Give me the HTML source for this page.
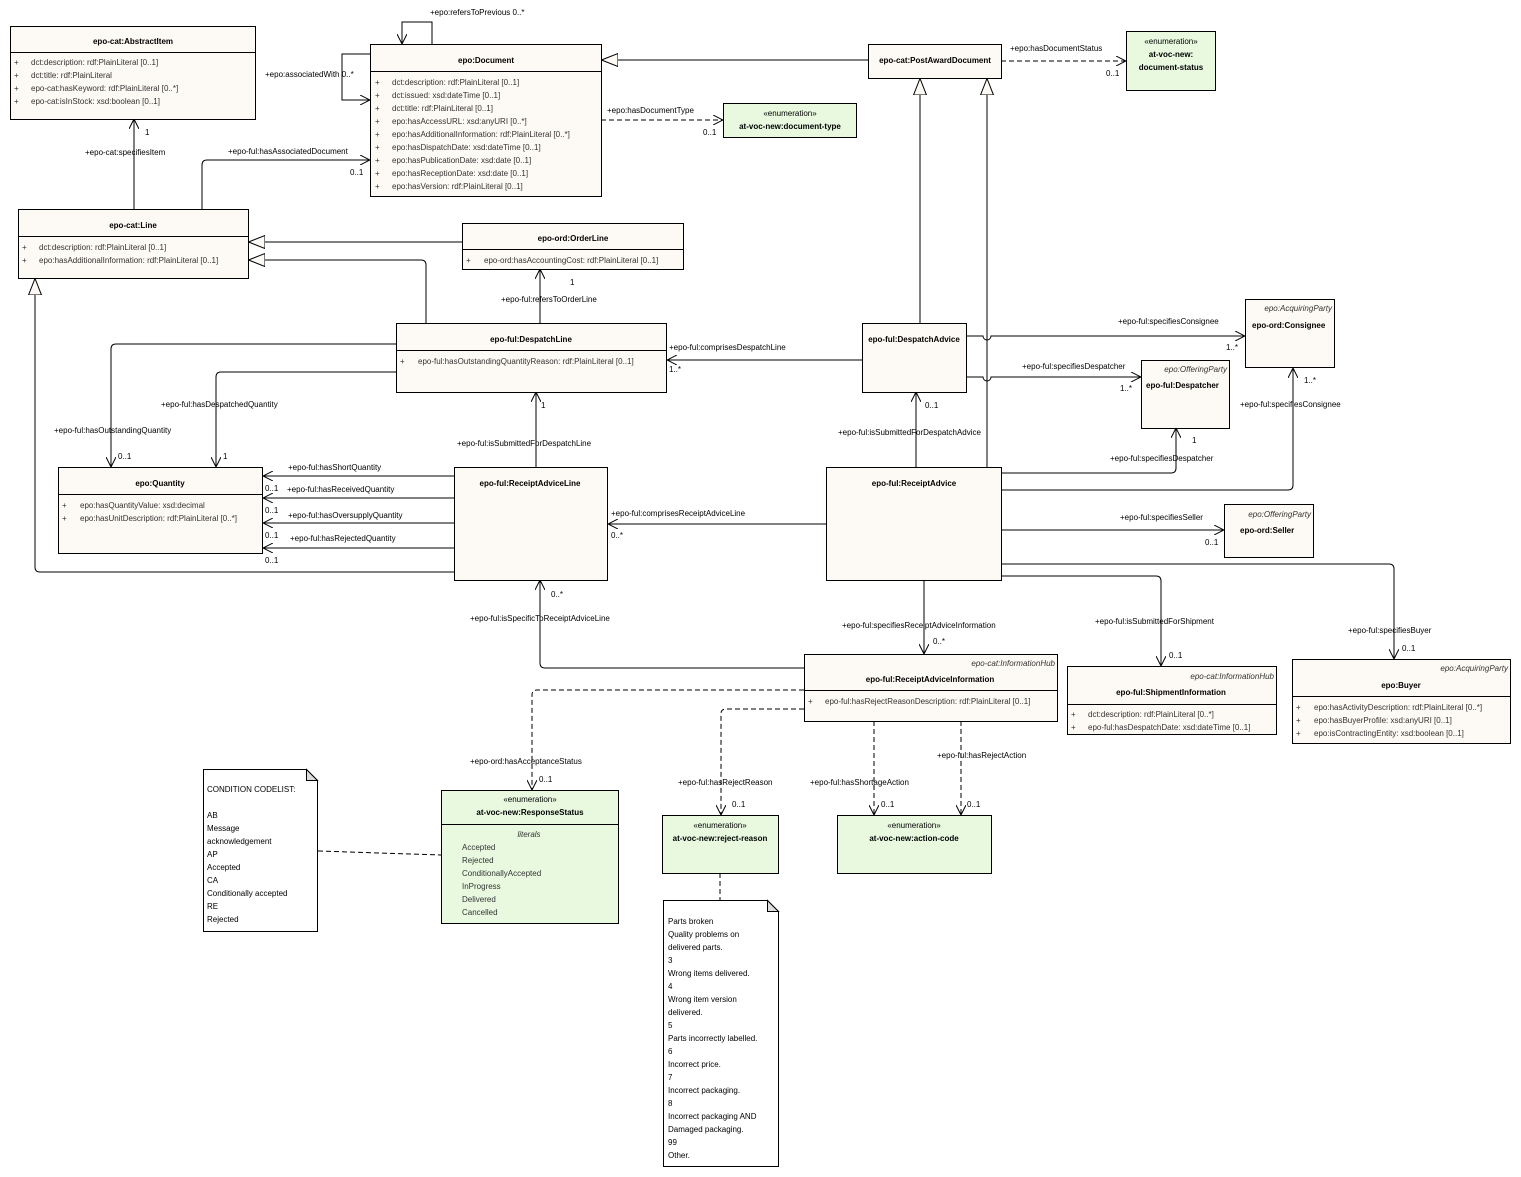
<!DOCTYPE html>
<html><head><meta charset="utf-8">
<style>
html,body{margin:0;padding:0;background:#fff;}
svg{display:block;}
text{font-family:"Liberation Sans",sans-serif;font-size:8px;fill:#000;}
.b{font-weight:bold;}
.at{fill:#333;}
.i{font-style:italic;fill:#333;}
.box{fill:#fdf9f4;stroke:#000;stroke-width:1;}
.en{fill:#e8f9e0;stroke:#000;stroke-width:1;}
.ln{fill:none;stroke:#000;stroke-width:1;}
.dl{fill:none;stroke:#000;stroke-width:1;stroke-dasharray:5,3;}
</style></head><body>
<svg width="1521" height="1177" viewBox="0 0 1521 1177" xmlns="http://www.w3.org/2000/svg">
<defs>
<marker id="a" viewBox="0 0 10 10" refX="10" refY="5" markerWidth="10" markerHeight="10" markerUnits="userSpaceOnUse" orient="auto"><path d="M0,0 L10,5 L0,10" fill="none" stroke="#000" stroke-width="1"/></marker>
<marker id="g" viewBox="0 0 17 14" refX="17" refY="7" markerWidth="17" markerHeight="14" markerUnits="userSpaceOnUse" orient="auto"><path d="M0,0.5 L16.5,7 L0,13.5 Z" fill="#fdf9f4" stroke="#000" stroke-width="1"/></marker>
</defs>

<path class="ln" d="M432,44 V22 H402 V44" marker-end="url(#a)"/>
<text x="430" y="15">+epo:refersToPrevious 0..*</text>
<path class="ln" d="M370,54 H342 V100 H370" marker-end="url(#a)"/>
<text x="265" y="77">+epo:associatedWith 0..*</text>
<path class="ln" d="M868,60 H601" marker-end="url(#g)"/>
<path class="dl" d="M1001,61 H1126" marker-end="url(#a)"/>
<text x="1010" y="51">+epo:hasDocumentStatus</text>
<text x="1106" y="76">0..1</text>
<path class="dl" d="M601,120 H723" marker-end="url(#a)"/>
<text x="607" y="113">+epo:hasDocumentType</text>
<text x="703" y="135">0..1</text>
<path class="ln" d="M920,323 V78" marker-end="url(#g)"/>
<path class="ln" d="M987,467 V78" marker-end="url(#g)"/>
<path class="ln" d="M134,209 V119" marker-end="url(#a)"/>
<text x="85" y="155">+epo-cat:specifiesItem</text>
<text x="145" y="135">1</text>
<path class="ln" d="M202,209 V165 Q202,160 207,160 H370" marker-end="url(#a)"/>
<text x="228" y="154">+epo-ful:hasAssociatedDocument</text>
<text x="350" y="175">0..1</text>
<path class="ln" d="M462,242 H248" marker-end="url(#g)"/>
<path class="ln" d="M426,323 V265 Q426,260 421,260 H248" marker-end="url(#g)"/>
<path class="ln" d="M540,323 V269" marker-end="url(#a)"/>
<text x="501" y="302">+epo-ful:refersToOrderLine</text>
<text x="570" y="285">1</text>
<path class="ln" d="M454,572 H40 Q35,572 35,567 V278" marker-end="url(#g)"/>
<path class="ln" d="M396,344 H116 Q111,344 111,349 V467" marker-end="url(#a)"/>
<text x="54" y="433">+epo-ful:hasOutstandingQuantity</text>
<text x="118" y="459">0..1</text>
<path class="ln" d="M396,372 H221 Q216,372 216,377 V467" marker-end="url(#a)"/>
<text x="161" y="407">+epo-ful:hasDespatchedQuantity</text>
<text x="223" y="459">1</text>
<path class="ln" d="M454,476 H263" marker-end="url(#a)"/>
<path class="ln" d="M454,498 H263" marker-end="url(#a)"/>
<path class="ln" d="M454,523 H263" marker-end="url(#a)"/>
<path class="ln" d="M454,548 H263" marker-end="url(#a)"/>
<text x="288" y="470">+epo-ful:hasShortQuantity</text>
<text x="265" y="491">0..1</text>
<text x="287" y="492">+epo-ful:hasReceivedQuantity</text>
<text x="265" y="513">0..1</text>
<text x="288" y="518">+epo-ful:hasOversupplyQuantity</text>
<text x="265" y="538">0..1</text>
<text x="290" y="541">+epo-ful:hasRejectedQuantity</text>
<text x="265" y="563">0..1</text>
<path class="ln" d="M536,467 V392" marker-end="url(#a)"/>
<text x="457" y="446">+epo-ful:isSubmittedForDespatchLine</text>
<text x="541" y="408">1</text>
<path class="ln" d="M862,360 H667" marker-end="url(#a)"/>
<text x="669" y="350">+epo-ful:comprisesDespatchLine</text>
<text x="669" y="372">1..*</text>
<path class="ln" d="M826,524 H608" marker-end="url(#a)"/>
<text x="611" y="516">+epo-ful:comprisesReceiptAdviceLine</text>
<text x="611" y="538">0..*</text>
<path class="ln" d="M916,467 V392" marker-end="url(#a)"/>
<text x="838" y="435">+epo-ful:isSubmittedForDespatchAdvice</text>
<text x="925" y="408">0..1</text>
<path class="ln" d="M966,336 H983 A4,4 0 0 0 991,336 H1245" marker-end="url(#a)"/>
<text x="1118" y="324">+epo-ful:specifiesConsignee</text>
<text x="1226" y="350">1..*</text>
<path class="ln" d="M966,377 H983 A4,4 0 0 0 991,377 H1141" marker-end="url(#a)"/>
<text x="1022" y="369">+epo-ful:specifiesDespatcher</text>
<text x="1120" y="391">1..*</text>
<path class="ln" d="M1001,473 H1171 Q1176,473 1176,468 V428" marker-end="url(#a)"/>
<text x="1110" y="461">+epo-ful:specifiesDespatcher</text>
<text x="1192" y="443">1</text>
<path class="ln" d="M1001,490 H1288 Q1293,490 1293,485 V368" marker-end="url(#a)"/>
<text x="1240" y="407">+epo-ful:specifiesConsignee</text>
<text x="1304" y="383">1..*</text>
<path class="ln" d="M1001,530 H1224" marker-end="url(#a)"/>
<text x="1120" y="520">+epo-ful:specifiesSeller</text>
<text x="1205" y="545">0..1</text>
<path class="ln" d="M1001,564 H1389 Q1394,564 1394,569 V659" marker-end="url(#a)"/>
<text x="1348" y="633">+epo-ful:specifiesBuyer</text>
<text x="1402" y="651">0..1</text>
<path class="ln" d="M1001,576 H1156 Q1161,576 1161,581 V666" marker-end="url(#a)"/>
<text x="1095" y="624">+epo-ful:isSubmittedForShipment</text>
<text x="1169" y="658">0..1</text>
<path class="ln" d="M924,580 V654" marker-end="url(#a)"/>
<text x="842" y="628">+epo-ful:specifiesReceiptAdviceInformation</text>
<text x="933" y="644">0..*</text>
<path class="ln" d="M804,668 H545 Q540,668 540,663 V580" marker-end="url(#a)"/>
<text x="470" y="621">+epo-ful:isSpecificToReceiptAdviceLine</text>
<text x="551" y="597">0..*</text>
<path class="dl" d="M804,690 H537 Q532,690 532,695 V790" marker-end="url(#a)"/>
<text x="470" y="764">+epo-ord:hasAcceptanceStatus</text>
<text x="539" y="782">0..1</text>
<path class="dl" d="M804,709 H726 Q721,709 721,714 V815" marker-end="url(#a)"/>
<text x="678" y="785">+epo-ful:hasRejectReason</text>
<text x="732" y="807">0..1</text>
<path class="dl" d="M874,721 V815" marker-end="url(#a)"/>
<text x="810" y="785">+epo-ful:hasShortageAction</text>
<text x="881" y="807">0..1</text>
<path class="dl" d="M961,721 V815" marker-end="url(#a)"/>
<text x="937" y="758">+epo-ful:hasRejectAction</text>
<text x="967" y="807">0..1</text>
<path class="dl" d="M318,851 L441,855"/>
<path class="dl" d="M720,873 V900"/>

<rect class="box" x="10.5" y="26.5" width="245" height="93"/>
<line class="ln" x1="10" y1="52.5" x2="256" y2="52.5"/>
<text class="b" x="133" y="44" text-anchor="middle">epo-cat:AbstractItem</text>
<text class="at" x="14" y="65">+</text><text class="at" x="31" y="65">dct:description: rdf:PlainLiteral [0..1]</text>
<text class="at" x="14" y="78">+</text><text class="at" x="31" y="78">dct:title: rdf:PlainLiteral</text>
<text class="at" x="14" y="91">+</text><text class="at" x="31" y="91">epo-cat:hasKeyword: rdf:PlainLiteral [0..*]</text>
<text class="at" x="14" y="104">+</text><text class="at" x="31" y="104">epo-cat:isInStock: xsd:boolean [0..1]</text>

<rect class="box" x="370.5" y="44.5" width="231" height="152"/>
<line class="ln" x1="370" y1="71.5" x2="602" y2="71.5"/>
<text class="b" x="486" y="63" text-anchor="middle">epo:Document</text>
<text class="at" x="375" y="85">+</text><text class="at" x="392" y="85">dct:description: rdf:PlainLiteral [0..1]</text>
<text class="at" x="375" y="98">+</text><text class="at" x="392" y="98">dct:issued: xsd:dateTime [0..1]</text>
<text class="at" x="375" y="111">+</text><text class="at" x="392" y="111">dct:title: rdf:PlainLiteral [0..1]</text>
<text class="at" x="375" y="124">+</text><text class="at" x="392" y="124">epo:hasAccessURL: xsd:anyURI [0..*]</text>
<text class="at" x="375" y="137">+</text><text class="at" x="392" y="137">epo:hasAdditionalInformation: rdf:PlainLiteral [0..*]</text>
<text class="at" x="375" y="150">+</text><text class="at" x="392" y="150">epo:hasDispatchDate: xsd:dateTime [0..1]</text>
<text class="at" x="375" y="163">+</text><text class="at" x="392" y="163">epo:hasPublicationDate: xsd:date [0..1]</text>
<text class="at" x="375" y="176">+</text><text class="at" x="392" y="176">epo:hasReceptionDate: xsd:date [0..1]</text>
<text class="at" x="375" y="189">+</text><text class="at" x="392" y="189">epo:hasVersion: rdf:PlainLiteral [0..1]</text>

<rect class="box" x="868.5" y="44.5" width="133" height="34"/>
<text class="b" x="935" y="63" text-anchor="middle">epo-cat:PostAwardDocument</text>

<rect class="en" x="1126.5" y="31.5" width="89" height="59"/>
<text x="1171" y="44" text-anchor="middle">«enumeration»</text>
<text class="b" x="1171" y="57" text-anchor="middle">at-voc-new:</text>
<text class="b" x="1171" y="70" text-anchor="middle">document-status</text>

<rect class="en" x="723.5" y="103.5" width="133" height="34"/>
<text x="790" y="116" text-anchor="middle">«enumeration»</text>
<text class="b" x="790" y="129" text-anchor="middle">at-voc-new:document-type</text>

<rect class="box" x="18.5" y="209.5" width="230" height="69"/>
<line class="ln" x1="18" y1="236.5" x2="249" y2="236.5"/>
<text class="b" x="133" y="228" text-anchor="middle">epo-cat:Line</text>
<text class="at" x="22" y="250">+</text><text class="at" x="39" y="250">dct:description: rdf:PlainLiteral [0..1]</text>
<text class="at" x="22" y="263">+</text><text class="at" x="39" y="263">epo:hasAdditionalInformation: rdf:PlainLiteral [0..1]</text>

<rect class="box" x="462.5" y="223.5" width="221" height="46"/>
<line class="ln" x1="462" y1="249.5" x2="684" y2="249.5"/>
<text class="b" x="573" y="241" text-anchor="middle">epo-ord:OrderLine</text>
<text class="at" x="466" y="263">+</text><text class="at" x="484" y="263">epo-ord:hasAccountingCost: rdf:PlainLiteral [0..1]</text>

<rect class="box" x="396.5" y="323.5" width="270" height="69"/>
<line class="ln" x1="396" y1="350.5" x2="667" y2="350.5"/>
<text class="b" x="531" y="342" text-anchor="middle">epo-ful:DespatchLine</text>
<text class="at" x="400" y="364">+</text><text class="at" x="418" y="364">epo-ful:hasOutstandingQuantityReason: rdf:PlainLiteral [0..1]</text>

<rect class="box" x="862.5" y="323.5" width="104" height="69"/>
<text class="b" x="914" y="342" text-anchor="middle">epo-ful:DespatchAdvice</text>

<rect class="box" x="1245.5" y="299.5" width="89" height="68"/>
<text class="i" x="1332" y="311" text-anchor="end">epo:AcquiringParty</text>
<text class="b" x="1252" y="328">epo-ord:Consignee</text>

<rect class="box" x="1141.5" y="360.5" width="88" height="68"/>
<text class="i" x="1227" y="372" text-anchor="end">epo:OfferingParty</text>
<text class="b" x="1146" y="388">epo-ful:Despatcher</text>

<rect class="box" x="58.5" y="467.5" width="204" height="86"/>
<line class="ln" x1="58" y1="494.5" x2="263" y2="494.5"/>
<text class="b" x="160" y="486" text-anchor="middle">epo:Quantity</text>
<text class="at" x="62" y="508">+</text><text class="at" x="80" y="508">epo:hasQuantityValue: xsd:decimal</text>
<text class="at" x="62" y="521">+</text><text class="at" x="80" y="521">epo:hasUnitDescription: rdf:PlainLiteral [0..*]</text>

<rect class="box" x="454.5" y="467.5" width="153" height="113"/>
<text class="b" x="530" y="486" text-anchor="middle">epo-ful:ReceiptAdviceLine</text>

<rect class="box" x="826.5" y="467.5" width="175" height="113"/>
<text class="b" x="914" y="486" text-anchor="middle">epo-ful:ReceiptAdvice</text>

<rect class="box" x="1224.5" y="504.5" width="89" height="53"/>
<text class="i" x="1311" y="517" text-anchor="end">epo:OfferingParty</text>
<text class="b" x="1240" y="533">epo-ord:Seller</text>

<rect class="box" x="804.5" y="654.5" width="253" height="67"/>
<line class="ln" x1="804" y1="690.5" x2="1058" y2="690.5"/>
<text class="i" x="1055" y="666" text-anchor="end">epo-cat:InformationHub</text>
<text class="b" x="930" y="682" text-anchor="middle">epo-ful:ReceiptAdviceInformation</text>
<text class="at" x="808" y="704">+</text><text class="at" x="825" y="704">epo-ful:hasRejectReasonDescription: rdf:PlainLiteral [0..1]</text>

<rect class="box" x="1067.5" y="666.5" width="209" height="68"/>
<line class="ln" x1="1067" y1="704.5" x2="1277" y2="704.5"/>
<text class="i" x="1274" y="679" text-anchor="end">epo-cat:InformationHub</text>
<text class="b" x="1171" y="695" text-anchor="middle">epo-ful:ShipmentInformation</text>
<text class="at" x="1071" y="717">+</text><text class="at" x="1088" y="717">dct:description: rdf:PlainLiteral [0..*]</text>
<text class="at" x="1071" y="730">+</text><text class="at" x="1088" y="730">epo-ful:hasDespatchDate: xsd:dateTime [0..1]</text>

<rect class="box" x="1292.5" y="659.5" width="218" height="84"/>
<line class="ln" x1="1292" y1="696.5" x2="1511" y2="696.5"/>
<text class="i" x="1508" y="671" text-anchor="end">epo:AcquiringParty</text>
<text class="b" x="1401" y="688" text-anchor="middle">epo:Buyer</text>
<text class="at" x="1296" y="710">+</text><text class="at" x="1314" y="710">epo:hasActivityDescription: rdf:PlainLiteral [0..*]</text>
<text class="at" x="1296" y="723">+</text><text class="at" x="1314" y="723">epo:hasBuyerProfile: xsd:anyURI [0..1]</text>
<text class="at" x="1296" y="736">+</text><text class="at" x="1314" y="736">epo:isContractingEntity: xsd:boolean [0..1]</text>

<rect class="en" x="441.5" y="790.5" width="177" height="133"/>
<line class="ln" x1="441" y1="824.5" x2="619" y2="824.5"/>
<text x="530" y="802" text-anchor="middle">«enumeration»</text>
<text class="b" x="530" y="815" text-anchor="middle">at-voc-new:ResponseStatus</text>
<text class="i" x="529" y="837" text-anchor="middle">literals</text>
<text class="at" x="462" y="850">Accepted</text>
<text class="at" x="462" y="863">Rejected</text>
<text class="at" x="462" y="876">ConditionallyAccepted</text>
<text class="at" x="462" y="889">InProgress</text>
<text class="at" x="462" y="902">Delivered</text>
<text class="at" x="462" y="915">Cancelled</text>

<rect class="en" x="662.5" y="815.5" width="116" height="58"/>
<text x="720" y="828" text-anchor="middle">«enumeration»</text>
<text class="b" x="720" y="841" text-anchor="middle">at-voc-new:reject-reason</text>

<rect class="en" x="837.5" y="815.5" width="154" height="58"/>
<text x="914" y="828" text-anchor="middle">«enumeration»</text>
<text class="b" x="914" y="841" text-anchor="middle">at-voc-new:action-code</text>

<path d="M203.5,769.5 H306.5 L317.5,780.5 V931.5 H203.5 Z" fill="#fff" stroke="#000"/>
<path d="M306.5,769.5 V780.5 H317.5 Z" fill="#ddd" stroke="#000"/>
<text x="207" y="792">CONDITION CODELIST:</text>
<text x="207" y="818">AB</text>
<text x="207" y="831">Message</text>
<text x="207" y="844">acknowledgement</text>
<text x="207" y="857">AP</text>
<text x="207" y="870">Accepted</text>
<text x="207" y="883">CA</text>
<text x="207" y="896">Conditionally accepted</text>
<text x="207" y="909">RE</text>
<text x="207" y="922">Rejected</text>

<path d="M663.5,900.5 H767.5 L778.5,911.5 V1166.5 H663.5 Z" fill="#fff" stroke="#000"/>
<path d="M767.5,900.5 V911.5 H778.5 Z" fill="#ddd" stroke="#000"/>
<text x="668" y="924">Parts broken</text>
<text x="668" y="937">Quality problems on</text>
<text x="668" y="950">delivered parts.</text>
<text x="668" y="963">3</text>
<text x="668" y="976">Wrong items delivered.</text>
<text x="668" y="989">4</text>
<text x="668" y="1002">Wrong item version</text>
<text x="668" y="1015">delivered.</text>
<text x="668" y="1028">5</text>
<text x="668" y="1041">Parts incorrectly labelled.</text>
<text x="668" y="1054">6</text>
<text x="668" y="1067">Incorrect price.</text>
<text x="668" y="1080">7</text>
<text x="668" y="1093">Incorrect packaging.</text>
<text x="668" y="1106">8</text>
<text x="668" y="1119">Incorrect packaging AND</text>
<text x="668" y="1132">Damaged packaging.</text>
<text x="668" y="1145">99</text>
<text x="668" y="1158">Other.</text>
</svg>
</body></html>
